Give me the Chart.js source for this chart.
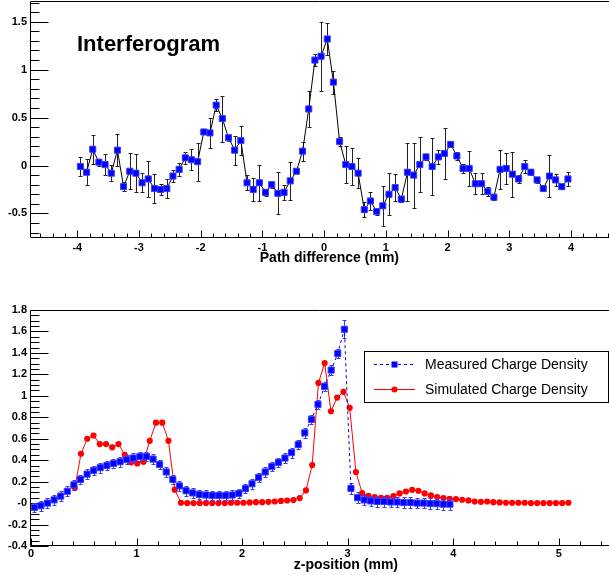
<!DOCTYPE html>
<html>
<head>
<meta charset="utf-8">
<script src="https://cdn.jsdelivr.net/npm/chart.js@4.4.0/dist/chart.umd.min.js"></script>
<style>
html, body { margin: 0; padding: 0; background: #fff; }
#wrap { position: relative; width: 609px; height: 575px; }
#c1 { position: absolute; left: 0; top: 0; }
#c2 { position: absolute; left: 0; top: 270px; }
</style>
</head>
<body>
<div id="wrap">
  <canvas id="c1" width="609" height="270"></canvas>
  <canvas id="c2" width="609" height="305"></canvas>
</div>
<script>
// ---- top panel: interferogram ----
let topX = [];   // path difference, 0.1 mm grid
for (let i = 0; i < 80; i++) {
    topX.push(+(-3.95 + i * 0.1).toFixed(2));
}
const topY = [-0.01,-0.07,0.17,0.035,0.01,-0.08,0.16,-0.22,-0.06,-0.08,
              -0.18,-0.14,-0.24,-0.25,-0.24,-0.11,-0.04,0.08,0.06,0.04,
              0.35,0.34,0.63,0.49,0.29,0.16,0.26,-0.18,-0.25,-0.18,
              -0.28,-0.20,-0.29,-0.28,-0.16,-0.06,0.15,0.59,1.10,1.14,
              1.32,0.87,0.25,0.01,-0.01,-0.08,-0.46,-0.37,-0.48,-0.42,
              -0.30,-0.23,-0.35,-0.07,-0.10,0.01,0.09,-0.01,0.09,0.125,
              0.22,0.10,-0.03,-0.03,-0.19,-0.19,-0.27,-0.33,-0.04,-0.03,
              -0.09,-0.14,-0.01,-0.07,-0.15,-0.24,-0.11,-0.15,-0.22,-0.14];
const topErr = [0.10,0.135,0.15,0.035,0.105,0.085,0.165,0.05,0.19,0.20,
                0.10,0.19,0.15,0.06,0.095,0.06,0.07,0.06,0.11,0.20,
                0.02,0.155,0.06,0.24,0.03,0.15,0.15,0.08,0.12,0.19,
                0.04,0.03,0.22,0.08,0.20,0.02,0.10,0.19,0.06,0.36,
                0.17,0.12,0.045,0.19,0.195,0.155,0.075,0.09,0.035,0.21,
                0.22,0.14,0.03,0.30,0.34,0.285,0.035,0.30,0.075,0.27,
                0.03,0.04,0.05,0.18,0.11,0.11,0.045,0.03,0.20,0.165,
                0.235,0.045,0.065,0.03,0.03,0.03,0.22,0.06,0.03,0.075];
const topXTicks = [-4,-3,-2,-1,0,1,2,3,4];
const topXLabels = ["-4","-3","-2","-1","0","1","2","3","4"];
const topYTicks = [-0.5,0,0.5,1,1.5];
const topYLabels = ["-0.5","0","0.5","1","1.5"];

// ---- bottom panel: charge density ----
let measX = [];  // 1/16 mm bins
for (let i = 0; i < 64; i++) {
    measX.push((i + 0.5) * 0.0625);
}
const measY = [-0.04,-0.025,0.0,0.03,0.065,0.11,0.17,0.22,0.27,0.305,
               0.33,0.35,0.37,0.385,0.405,0.42,0.435,0.435,0.41,0.36,
               0.29,0.22,0.16,0.115,0.095,0.08,0.075,0.07,0.07,0.07,
               0.075,0.09,0.135,0.18,0.24,0.29,0.34,0.38,0.42,0.47,
               0.545,0.655,0.78,0.92,1.087,1.24,1.395,1.62,0.137,0.05,
               0.03,0.02,0.015,0.015,0.01,0.01,0.005,0.005,0.0,0.0,
               -0.005,-0.005,-0.01,-0.01];
let measErr = [];
for (let i = 0; i < 64; i++) {
    measErr.push(i == 47 ? 0.085 : (i > 47 ? 0.05 : 0.045));
}
let simX = [];   // simulation grid
for (let j = 7; j <= 86; j++) {
    simX.push(+(j * 0.0592).toFixed(4));
}
const simY = [0.14,0.46,0.60,0.63,0.55,0.55,0.52,0.55,0.45,0.38,
              0.37,0.385,0.58,0.75,0.75,0.58,0.125,0.003,
              0,0,0,0,0,0,0,0.003,0.003,0.003,0.006,0.009,0.009,0.012,0.015,0.02,0.024,0.028,0.047,0.118,0.355,
              1.12,1.305,0.856,0.984,1.037,0.888,0.29,0.093,0.068,0.055,0.05,0.05,0.065,
              0.09,0.108,0.124,0.115,0.09,0.071,0.056,0.047,0.04,0.037,
              0.031,0.025,0.015,0.012,0.015,0.009,0.006,0.003,0.003,0.003,
              0.003,0,0,0,0,0,0,0.003];
const botXTicks = [0,1,2,3,4,5];
const botXLabels = ["0","1","2","3","4","5"];
const botYTicks = [-0.4,-0.2,0,0.2,0.4,0.6,0.8,1,1.2,1.4,1.6,1.8];
const botYLabels = ["-0.4","-0.2","-0","0.2","0.4","0.6","0.8","1","1.2","1.4","1.6","1.8"];

const FONT = "'Liberation Sans', Arial, Helvetica, sans-serif";

function steps(min, max, step) {
    let out = [];
    for (let k = Math.ceil(min / step - 1e-9); k * step <= max + 1e-9; k++) {
        out.push(k * step);
    }
    return out;
}

// ROOT-like frame with inward ticks
const rootFrame = {
    id: 'rootFrame',
    beforeDatasetsDraw(chart, args, o) {
        const ctx = chart.ctx, a = chart.chartArea;
        const xs = chart.scales.x, ys = chart.scales.y;
        const L = Math.round(a.left) - 0.5, B = Math.round(a.bottom) - 0.5, T = Math.round(a.top) + 0.5;
        ctx.save();
        ctx.strokeStyle = '#000';
        ctx.lineWidth = 1;
        ctx.beginPath();
        ctx.moveTo(a.right, T); ctx.lineTo(L, T); ctx.lineTo(L, B); ctx.lineTo(a.right, B);
        function xt(v, len) {
            const p = Math.round(xs.getPixelForValue(v)) + 0.5;
            ctx.moveTo(p, B); ctx.lineTo(p, B - len);
        }
        function yt(v, len) {
            const p = Math.round(ys.getPixelForValue(v)) + 0.5;
            ctx.moveTo(L, p); ctx.lineTo(L + len, p);
        }
        steps(xs.min, xs.max, o.xMinorStep).forEach(v => xt(v, o.xMinorLen));
        o.xMajor.forEach(v => xt(v, o.xMajorLen));
        steps(ys.min, ys.max, o.yMinorStep).forEach(v => yt(v, o.yMinorLen));
        o.yMajor.forEach(v => yt(v, o.yMajorLen));
        ctx.stroke();
        ctx.restore();
    },
    afterDatasetsDraw(chart, args, o) {
        const ctx = chart.ctx;
        ctx.save();
        ctx.fillStyle = '#000';
        (o.texts || []).forEach(t => {
            ctx.font = t.font;
            ctx.textAlign = t.align || 'left';
            ctx.textBaseline = 'alphabetic';
            ctx.fillText(t.text, t.x, t.y);
        });
        ctx.restore();
    }
};

// vertical error bars, drawn right before their own dataset
const errBars = {
    id: 'errBars',
    beforeDatasetDraw(chart, args) {
        const ds = chart.data.datasets[args.index];
        if (!ds.errors) return;
        const ctx = chart.ctx, ys = chart.scales.y;
        ctx.save();
        ctx.strokeStyle = ds.errorColor;
        ctx.lineWidth = 1;
        ctx.beginPath();
        args.meta.data.forEach((pt, i) => {
            const v = ds.data[i].y, e = ds.errors[i];
            const x = Math.round(pt.x) + 0.5;
            const y1 = Math.round(ys.getPixelForValue(v + e)) + 0.5;
            const y2 = Math.round(ys.getPixelForValue(v - e)) + 0.5;
            ctx.moveTo(x, y1); ctx.lineTo(x, y2);
            ctx.moveTo(x - ds.capHalf, y1); ctx.lineTo(x + ds.capHalf, y1);
            ctx.moveTo(x - ds.capHalf, y2); ctx.lineTo(x + ds.capHalf, y2);
        });
        ctx.stroke();
        ctx.restore();
    }
};

// boxed legend inside the plot
const boxLegend = {
    id: 'boxLegend',
    afterDatasetsDraw(chart, args, o) {
        if (!o.show) return;
        const ctx = chart.ctx;
        ctx.save();
        ctx.fillStyle = '#fff';
        ctx.fillRect(o.left, o.top, o.width, o.height);
        ctx.strokeStyle = '#000';
        ctx.lineWidth = 1;
        ctx.strokeRect(o.left + 0.5, o.top + 0.5, o.width, o.height);
        chart.data.datasets.forEach((ds, i) => {
            const y = o.top + 13 + 25 * i + 0.5;
            ctx.strokeStyle = ds.borderColor;
            ctx.setLineDash(ds.borderDash || []);
            ctx.beginPath();
            ctx.moveTo(o.left + 10, y); ctx.lineTo(o.left + 51, y);
            ctx.stroke();
            ctx.setLineDash([]);
            ctx.fillStyle = ds.pointBackgroundColor;
            const cx = o.left + 30.5;
            if (ds.pointStyle == 'rect') {
                ctx.fillRect(cx - 3, y - 3, 6, 6);
            } else {
                ctx.beginPath();
                ctx.arc(cx, y, 3, 0, Math.PI * 2);
                ctx.fill();
            }
            ctx.fillStyle = '#000';
            ctx.font = '14px ' + FONT;
            ctx.textAlign = 'left';
            ctx.textBaseline = 'middle';
            ctx.fillText(ds.label, o.left + 61, y + 1);
        });
        ctx.restore();
    }
};

function axisX(min, max, ticks, labels, h, pad) {
    return {
        type: 'linear', min: min, max: max,
        afterBuildTicks: s => { s.ticks = ticks.map(v => ({ value: v })); },
        afterFit: s => { s.height = h; s.paddingLeft = 0; s.paddingRight = 0; },
        ticks: {
            color: '#000', padding: pad, maxRotation: 0, autoSkip: false,
            font: { family: FONT, weight: 'bold', size: 11 },
            callback: (v, i) => labels[i]
        },
        grid: { display: false, drawTicks: false },
        border: { display: false }
    };
}
function axisY(min, max, ticks, labels) {
    return {
        type: 'linear', min: min, max: max,
        afterBuildTicks: s => { s.ticks = ticks.map(v => ({ value: v })); },
        afterFit: s => { s.width = 31; s.paddingTop = 0; s.paddingBottom = 0; },
        ticks: {
            color: '#000', padding: 4, autoSkip: false,
            font: { family: FONT, weight: 'bold', size: 11 },
            callback: (v, i) => labels[i]
        },
        grid: { display: false, drawTicks: false },
        border: { display: false }
    };
}

const topChart = new Chart(document.getElementById("c1").getContext("2d"), {
    type: "line",
    data: {
        datasets: [{
            label: "Interferogram",
            data: topX.map((x, i) => ({ x: x, y: topY[i] })),
            errors: topErr,
            errorColor: '#222',
            capHalf: 2,
            borderColor: '#000',
            borderWidth: 1,
            tension: 0,
            fill: false,
            pointStyle: 'rect',
            pointRadius: 4.3,
            pointBackgroundColor: '#0000ff',
            pointBorderColor: '#3c3cff',
            pointBorderWidth: 1
        }]
    },
    options: {
        responsive: false,
        animation: false,
        events: [],
        layout: { autoPadding: false, padding: { top: 1, left: 0, right: 0, bottom: 0 } },
        scales: {
            x: axisX(-4.75, 4.615, topXTicks, topXLabels, 32, 3),
            y: axisY(-0.756, 1.716, topYTicks, topYLabels)
        },
        plugins: {
            legend: { display: false },
            tooltip: { enabled: false },
            rootFrame: {
                xMajor: topXTicks, xMinorStep: 0.2, xMajorLen: 7, xMinorLen: 4,
                yMajor: topYTicks, yMinorStep: 0.1, yMajorLen: 18, yMinorLen: 9,
                texts: [
                    { text: "Interferogram", x: 77, y: 51, font: "bold 22px " + FONT },
                    { text: "Path difference (mm)", x: 399, y: 261.5, align: 'right', font: "bold 14px " + FONT }
                ]
            },
            boxLegend: { show: false }
        }
    },
    plugins: [rootFrame, errBars, boxLegend]
});

const botChart = new Chart(document.getElementById("c2").getContext("2d"), {
    type: "line",
    data: {
        datasets: [
            {
                label: "Measured Charge Density",
                data: measX.map((x, i) => ({ x: x, y: measY[i] })),
                errors: measErr,
                errorColor: '#3c3cff',
                capHalf: 2,
                borderColor: '#0000ff',
                borderWidth: 1,
                borderDash: [3, 3],
                tension: 0,
                fill: false,
                pointStyle: 'rect',
                pointRadius: 4.3,
                pointBackgroundColor: '#0000ff',
                pointBorderColor: '#3c3cff',
                pointBorderWidth: 1
            },
            {
                label: "Simulated Charge Density",
                data: simX.map((x, i) => ({ x: x, y: simY[i] })),
                borderColor: '#ff0000',
                borderWidth: 1,
                tension: 0,
                fill: false,
                pointStyle: 'circle',
                pointRadius: 3.1,
                pointBackgroundColor: '#ff0000',
                pointBorderWidth: 0
            }
        ]
    },
    options: {
        responsive: false,
        animation: false,
        events: [],
        layout: { autoPadding: false, padding: { top: 40, left: 0, right: 0, bottom: 0 } },
        scales: {
            x: axisX(0, 5.476, botXTicks, botXLabels, 29, 1),
            y: axisY(-0.4, 1.8, botYTicks, botYLabels)
        },
        plugins: {
            legend: { display: false },
            tooltip: { enabled: false },
            rootFrame: {
                xMajor: botXTicks, xMinorStep: 0.2, xMajorLen: 7, xMinorLen: 4,
                yMajor: botYTicks, yMinorStep: 0.05, yMajorLen: 18, yMinorLen: 9,
                texts: [
                    { text: "z-position (mm)", x: 398, y: 299, align: 'right', font: "bold 14px " + FONT }
                ]
            },
            boxLegend: { show: true, left: 364, top: 81, width: 244, height: 51 }
        }
    },
    plugins: [rootFrame, errBars, boxLegend]
});
</script>
</body>
</html>
